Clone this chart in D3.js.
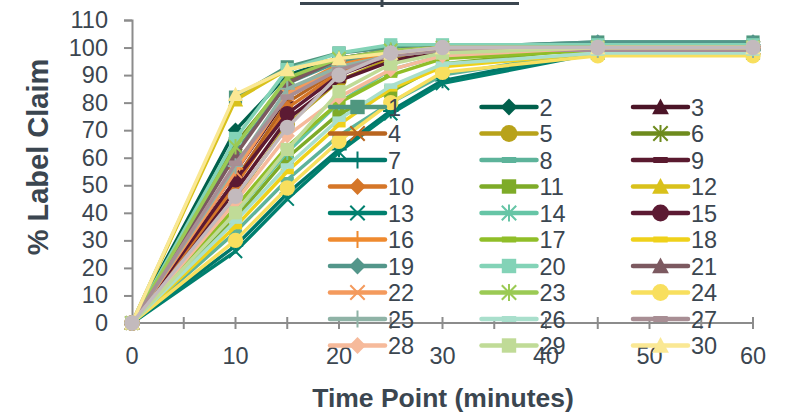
<!DOCTYPE html>
<html>
<head>
<meta charset="utf-8">
<script src="https://cdn.jsdelivr.net/npm/d3@7"></script>
<style>
  body { margin: 0; background: #fff; }
  svg { display: block; }
  text { font-family: "Liberation Sans Narrow", "Arial Narrow", "Liberation Sans", sans-serif; fill: #3b4650; }
</style>
</head>
<body>
<svg></svg>
<script>
// time points (minutes)
var times = [0, 10, 15, 20, 25, 30, 45, 60];

// series labels (last one has no legend entry, it is cut off in the original)
var seriesNames = ['1','2','3','4','5','6','7','8','9','10','11','12','13','14','15',
                   '16','17','18','19','20','21','22','23','24','25','26','27','28','29','30',''];

// % label claim per series at each time point
var seriesValues = [
    [0, 82, 93, 98, 100, 100, 102, 102],
    [0, 70, 90, 96, 99, 100, 101, 101],
    [0, 55, 82, 93, 98, 100, 100, 100],
    [0, 52, 80, 92, 97, 99, 100, 100],
    [0, 45, 72, 88, 96, 99, 100, 100],
    [0, 65, 88, 95, 98, 99, 100, 100],
    [0, 28, 47, 63, 77, 88, 99, 99],
    [0, 33, 52, 68, 80, 90, 99, 99],
    [0, 48, 74, 88, 95, 99, 100, 100],
    [0, 50, 78, 91, 97, 99, 100, 100],
    [0, 38, 60, 76, 84, 94, 100, 100],
    [0, 81, 92, 96, 98, 100, 100, 100],
    [0, 26, 45, 62, 76, 87, 98, 98],
    [0, 40, 62, 80, 92, 97, 99, 99],
    [0, 52, 76, 90, 97, 99, 100, 100],
    [0, 56, 84, 94, 98, 100, 100, 100],
    [0, 42, 64, 80, 90, 96, 99, 99],
    [0, 35, 55, 72, 85, 93, 98, 98],
    [0, 62, 87, 95, 99, 100, 102, 102],
    [0, 67, 92, 98, 101, 101, 101, 101],
    [0, 61, 87, 96, 99, 100, 100, 100],
    [0, 55, 83, 93, 97, 99, 100, 100],
    [0, 64, 89, 96, 99, 100, 100, 100],
    [0, 30, 49, 66, 80, 91, 97, 97],
    [0, 57, 85, 93, 97, 99, 99, 99],
    [0, 37, 57, 74, 86, 94, 98, 98],
    [0, 58, 82, 92, 97, 99, 99, 99],
    [0, 44, 68, 82, 92, 97, 100, 100],
    [0, 40, 63, 84, 94, 98, 100, 100],
    [0, 83, 92, 96, 98, 100, 100, 100],
    [0, 46, 71, 90, 98, 100, 100, 100]
];

var seriesColors = ['#4f977f','#00604c','#4b1427','#b9651f','#b8a21a','#6e8b1d','#00776a','#5db39a',
                    '#5a1a2f','#d57628','#7eab28','#d9c11b','#00806f','#66c5a6','#5c1a33','#ef8a2f',
                    '#90be28','#efd11a','#53968a','#83d3b7','#7c5960','#f49a5d','#9bca54','#f8df5e',
                    '#8fb3a6','#a9dfcc','#a88e94','#f6ba9b','#c0db97','#fae894','#c3babd'];

var seriesMarkers = ['square','diamond','triangle','x','circle','star','plus','dash','dash',
                     'diamond','square','triangle','x','star','circle','plus','dash','dash',
                     'diamond','square','triangle','x','star','circle','plus','dash','dash',
                     'diamond','square','triangle','circle'];

var yTicks = [0,10,20,30,40,50,60,70,80,90,100,110];
var xTicks = [0,10,20,30,40,50,60];
var xMinorTicks = [0,5,10,15,20,25,30,35,40,45,50,55,60];

document.addEventListener('DOMContentLoaded', function () {
    drawChart();
});

// draw one marker shape into a group, centred on 0,0
function drawMarker(g, shape, color, k) {
    var r = 7 * k;
    if (shape === 'circle') {
        g.append('circle').attr('r', r).attr('fill', color);
    } else if (shape === 'square') {
        g.append('rect').attr('x', -6 * k).attr('y', -6 * k)
            .attr('width', 12 * k).attr('height', 12 * k).attr('fill', color);
    } else if (shape === 'diamond') {
        g.append('path').attr('d', 'M0,' + (-r) + 'L' + r + ',0L0,' + r + 'L' + (-r) + ',0Z').attr('fill', color);
    } else if (shape === 'triangle') {
        g.append('path').attr('d', 'M0,' + (-r) + 'L' + r + ',' + (6 * k) + 'L' + (-r) + ',' + (6 * k) + 'Z').attr('fill', color);
    } else if (shape === 'dash') {
        g.append('rect').attr('x', -6 * k).attr('y', -2.5 * k)
            .attr('width', 12 * k).attr('height', 5 * k).attr('fill', color);
    } else {
        var d = '';
        var a = 6 * k;
        if (shape === 'x' || shape === 'star') {
            d += 'M' + (-a) + ',' + (-a) + 'L' + a + ',' + a + 'M' + (-a) + ',' + a + 'L' + a + ',' + (-a);
        }
        if (shape === 'star' || shape === 'plus') {
            d += 'M0,' + (-r) + 'L0,' + r;
        }
        if (shape === 'plus') {
            d += 'M' + (-r) + ',0L' + r + ',0';
        }
        g.append('path').attr('d', d).attr('fill', 'none')
            .attr('stroke', color).attr('stroke-width', 2);
    }
}

function drawChart() {
    var svgWidth = 789, svgHeight = 416;
    var svg = d3.select('svg')
        .attr('width', svgWidth)
        .attr('height', svgHeight);

    var x = d3.scaleLinear().domain([0, 60]).range([132, 753]);
    var y = d3.scaleLinear().domain([0, 110]).range([323, 20]);

    // cut-off title underline at the top
    svg.append('path')
        .attr('d', 'M300,3.5H519M382,0V7')
        .attr('stroke', '#3b4650')
        .attr('stroke-width', 3)
        .attr('fill', 'none');

    // y axis
    var yAxis = svg.append('g')
        .attr('transform', 'translate(132,0)')
        .call(d3.axisLeft(y).tickValues(yTicks).tickSize(8).tickPadding(16));
    yAxis.select('.domain').attr('stroke', '#8c8c8c').attr('stroke-width', 2);
    yAxis.selectAll('.tick line').attr('stroke', '#8c8c8c').attr('stroke-width', 2);
    yAxis.selectAll('.tick text').attr('font-size', 23.5).attr('fill', '#3b4650')
        .style('font-family', '"Liberation Sans Narrow", "Arial Narrow", sans-serif');

    // x axis: crossing minor ticks every 5, labels every 10
    var xAxis = svg.append('g')
        .attr('transform', 'translate(0,323)');
    xAxis.append('line')
        .attr('x1', x(0)).attr('x2', x(60))
        .attr('stroke', '#8c8c8c').attr('stroke-width', 2);
    xAxis.selectAll('.xtick').data(xMinorTicks).enter().append('line')
        .attr('x1', function (d) { return x(d); })
        .attr('x2', function (d) { return x(d); })
        .attr('y1', -6).attr('y2', 6)
        .attr('stroke', '#8c8c8c').attr('stroke-width', 2);
    xAxis.selectAll('.xlabel').data(xTicks).enter().append('text')
        .attr('x', function (d) { return x(d); })
        .attr('y', 41)
        .attr('text-anchor', 'middle')
        .attr('font-size', 23.5)
        .text(function (d) { return d; });

    // axis titles
    svg.append('text')
        .attr('transform', 'translate(48,157) rotate(-90)')
        .attr('text-anchor', 'middle')
        .attr('font-size', 29)
        .attr('font-weight', 'bold')
        .style('font-family', '"Liberation Sans Narrow", "Arial Narrow", sans-serif')
        .text('% Label Claim');

    svg.append('text')
        .attr('x', 443).attr('y', 407)
        .attr('text-anchor', 'middle')
        .attr('font-size', 26.5)
        .attr('font-weight', 'bold')
        .text('Time Point (minutes)');

    // series
    var line = d3.line()
        .x(function (d, i) { return x(times[i]); })
        .y(function (d) { return y(d); });

    var plot = svg.append('g');
    seriesValues.forEach(function (vals, s) {
        var g = plot.append('g');
        g.append('path')
            .datum(vals)
            .attr('fill', 'none')
            .attr('stroke', seriesColors[s])
            .attr('stroke-width', 3.5)
            .attr('stroke-linejoin', 'round')
            .attr('stroke-linecap', 'round')
            .attr('d', line);
        vals.forEach(function (v, i) {
            var m = g.append('g').attr('transform', 'translate(' + x(times[i]) + ',' + y(v) + ')');
            drawMarker(m, seriesMarkers[s], seriesColors[s], 1.1);
        });
    });

    // legend: 3 columns x 10 rows, no background
    var legend = svg.append('g');
    seriesNames.forEach(function (name, s) {
        if (name === '') return;
        var col = s % 3, row = Math.floor(s / 3);
        var lx = 330 + col * 151.5, ly = 107 + row * 26.5;
        var item = legend.append('g').attr('transform', 'translate(' + lx + ',' + ly + ')');
        item.append('line')
            .attr('x1', 0).attr('x2', 55)
            .attr('stroke', seriesColors[s])
            .attr('stroke-width', 4.5)
            .attr('stroke-linecap', 'round');
        var m = item.append('g').attr('transform', 'translate(27.5,0)');
        drawMarker(m, seriesMarkers[s], seriesColors[s], 1.2);
        item.append('text')
            .attr('x', 58).attr('y', 8.5)
            .attr('font-size', 23.5)
            .text(name);
    });
}
</script>
</body>
</html>
